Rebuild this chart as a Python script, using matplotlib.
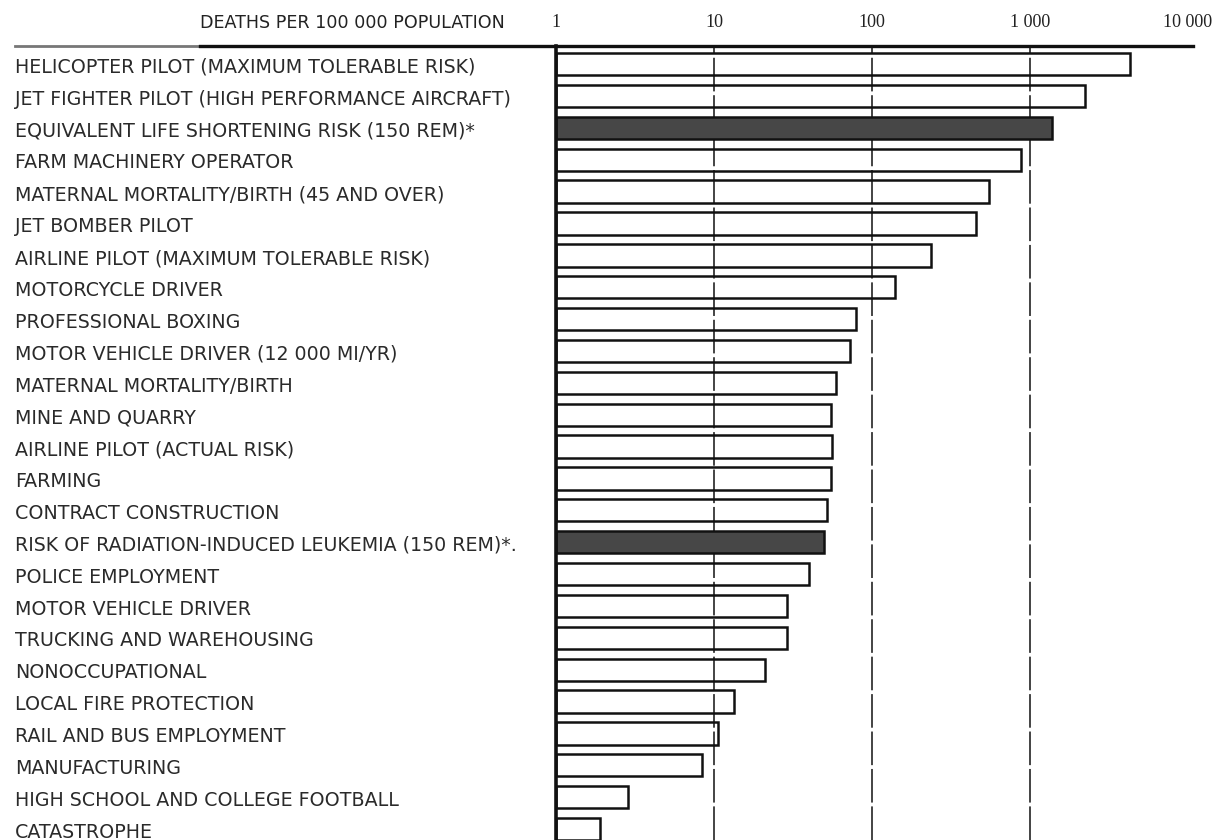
import matplotlib
matplotlib.use("Agg")
import matplotlib.pyplot as plt
from matplotlib.lines import Line2D
from matplotlib.ticker import NullLocator
import matplotlib.transforms as mtransforms

categories = [
    "HELICOPTER PILOT (MAXIMUM TOLERABLE RISK)",
    "JET FIGHTER PILOT (HIGH PERFORMANCE AIRCRAFT)",
    "EQUIVALENT LIFE SHORTENING RISK (150 REM)*",
    "FARM MACHINERY OPERATOR",
    "MATERNAL MORTALITY/BIRTH (45 AND OVER)",
    "JET BOMBER PILOT",
    "AIRLINE PILOT (MAXIMUM TOLERABLE RISK)",
    "MOTORCYCLE DRIVER",
    "PROFESSIONAL BOXING",
    "MOTOR VEHICLE DRIVER (12 000 MI/YR)",
    "MATERNAL MORTALITY/BIRTH",
    "MINE AND QUARRY",
    "AIRLINE PILOT (ACTUAL RISK)",
    "FARMING",
    "CONTRACT CONSTRUCTION",
    "RISK OF RADIATION-INDUCED LEUKEMIA (150 REM)*.",
    "POLICE EMPLOYMENT",
    "MOTOR VEHICLE DRIVER",
    "TRUCKING AND WAREHOUSING",
    "NONOCCUPATIONAL",
    "LOCAL FIRE PROTECTION",
    "RAIL AND BUS EMPLOYMENT",
    "MANUFACTURING",
    "HIGH SCHOOL AND COLLEGE FOOTBALL",
    "CATASTROPHE",
]
deaths = [4300, 2230, 1380, 880, 550, 455, 237, 139, 79, 73,
          59, 55, 56, 55, 52, 50, 40, 29, 29, 21,
          13.3, 10.6, 8.4, 2.85, 1.9]
radiation = [False, False, True, False, False, False, False, False, False, False,
             False, False, False, False, False, True, False, False, False, False,
             False, False, False, False, False]
tick_values = [1, 10, 100, 1000, 10000]
tick_labels = ["1", "10", "100", "1 000", "10 000"]
axis_title = "DEATHS PER 100 000 POPULATION"

W, H = 1216, 840
fig = plt.figure(figsize=(W / 100, H / 100), dpi=100)
x0, x1 = 556, 1188
ytop = 46
ax = fig.add_axes([x0 / W, 0, (x1 - x0) / W, 1 - ytop / H])
ax.set_xscale("log")
ax.set_xlim(1, 10000)
n = len(categories)
ax.set_ylim(n - 1 + 0.345, -0.57)

# grid lines
for g in tick_values[1:-1]:
    ax.axvline(g, color="#111111", lw=1.1, dashes=(22, 2.5), zorder=1)

for i, (v, r) in enumerate(zip(deaths, radiation)):
    ax.barh(i, v - 1, left=1, height=0.7,
            facecolor="#474747" if r else "none",
            edgecolor="#111111", linewidth=1.8, zorder=3 if r else 2)

for s in ["right", "bottom", "top"]:
    ax.spines[s].set_visible(False)
ax.spines["left"].set_linewidth(2.6)
ax.spines["left"].set_color("#111111")
ax.spines["left"].set_zorder(5)

ax.set_yticks([])
ax.xaxis.set_ticks_position("top")
ax.set_xticks(tick_values)
ax.set_xticklabels(tick_labels, fontfamily="Liberation Serif", fontsize=13,
                   color="#222222")
ax.xaxis.set_minor_locator(NullLocator())
ax.tick_params(axis="x", length=0, pad=10.5)

# top rule extending under labels
fig.add_artist(Line2D([15 / W, 200 / W], [1 - ytop / H, 1 - ytop / H],
                      transform=fig.transFigure, color="#777777", lw=2.0))
fig.add_artist(Line2D([200 / W, 1193 / W], [1 - ytop / H, 1 - ytop / H],
                      transform=fig.transFigure, color="#111111", lw=2.4))

trans = mtransforms.blended_transform_factory(fig.transFigure, ax.transData)
for i, c in enumerate(categories):
    ax.text(15 / W, i + 0.1, c, transform=trans, ha="left", va="center",
            fontsize=13.7, color="#2a2a2a", family="DejaVu Sans")

fig.text(505 / W, 1 - 23 / H, axis_title, ha="right", va="center",
         fontsize=12.6, color="#222222", family="DejaVu Sans")

fig.savefig("out.png", dpi=100, facecolor="white")
